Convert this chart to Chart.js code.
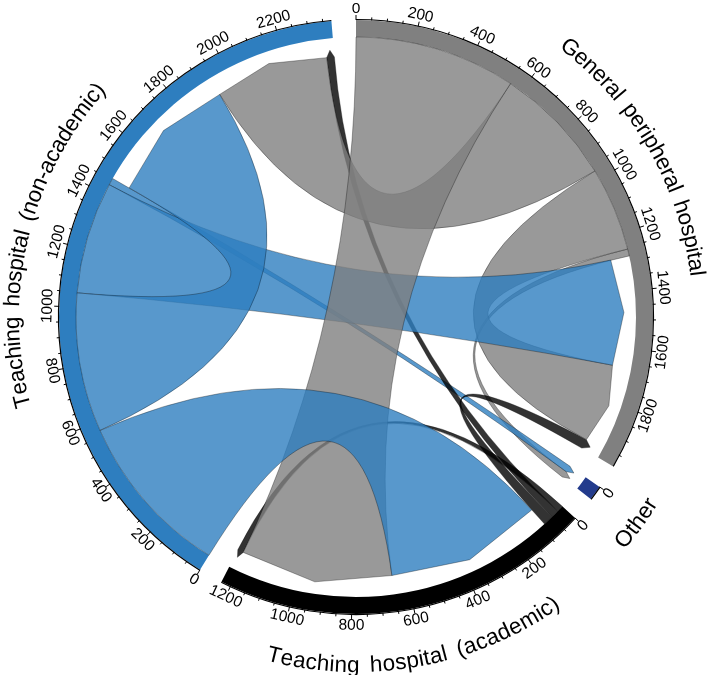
<!DOCTYPE html>
<html>
<head>
<meta charset="utf-8">
<script src="https://cdn.jsdelivr.net/npm/chart.js@4.4.1/dist/chart.umd.min.js"></script>
<style>
html,body{margin:0;padding:0;background:#ffffff;}
canvas{display:block;}
</style>
</head>
<body>
<canvas id="c" width="709" height="675"></canvas>
<script>
// ---- data ----
const groups = ['General peripheral hospital', 'Other', 'Teaching hospital (academic)', 'Teaching hospital (non-academic)'];
// transfers from a group (array) to each group, in the order of `groups`
const fromGeneral  = [288, 24, 555, 415];
const fromOther    = [0, 0, 0, 0];
const fromAcademic = [35, 0, 22, 28];
const fromNonAcad  = [385, 24, 570, 478];
// order of link ends inside each sector (clockwise): outgoing first, then incoming
const outOrder = [2, 3, 0, 1];
const inOrder  = [3, 0, 2, 1];
const tickStep = 50;
const labelStep = 200;

// ---- styles ----
const groupColors = ['#808080', '#233b8c', '#000000', '#2e7ebf'];
const ribbonColors = ['rgba(128,128,128,0.8)', 'rgba(35,59,140,0.8)', 'rgba(0,0,0,0.8)', 'rgba(46,126,191,0.8)'];
const GAP_DEG = 4.75;
const FONT = '"Liberation Sans", Arial, Helvetica, sans-serif';

const M = [fromGeneral, fromOther, fromAcademic, fromNonAcad];
const n = groups.length;
const totals = groups.map((_, i) => M[i].reduce((a, b) => a + b, 0) + M.reduce((a, row) => a + row[i], 0));

const srcPos = {}, tgtPos = {};
for (let i = 0; i < n; i++) {
  let c = 0;
  for (const j of outOrder) if (M[i][j] > 0) { srcPos[i + '-' + j] = [c, c + M[i][j]]; c += M[i][j]; }
  for (const j of inOrder) if (M[j][i] > 0) { tgtPos[j + '-' + i] = [c, c + M[j][i]]; c += M[j][i]; }
}
const links = [];
for (let i = 0; i < n; i++) for (let j = 0; j < n; j++) if (M[i][j] > 0) links.push({ i, j, v: M[i][j] });
links.sort((a, b) => a.v - b.v);

const sumT = totals.reduce((a, b) => a + b, 0);
const gapUnits = sumT * GAP_DEG / (360 - n * GAP_DEG);
const ringData = [], ringColors = [], ringLabels = [];
totals.forEach((t, i) => {
  ringData.push(t, gapUnits);
  ringColors.push(groupColors[i], 'rgba(0,0,0,0)');
  ringLabels.push(groups[i], '');
});

function curvedText(ctx, text, cx, cy, thetaC) {
  ctx.font = '22.5px ' + FONT;
  const bottom = thetaC > Math.PI / 2 && thetaC < 1.5 * Math.PI;
  const Rmid = 346, rBase = bottom ? 355 : 337, wordGap = 4;
  const chars = [...text];
  const widths = chars.map(ch => ctx.measureText(ch).width + (ch === ' ' ? wordGap : 0));
  const total = widths.reduce((a, b) => a + b, 0);
  const totAng = total / Rmid;
  let acc = 0;
  chars.forEach((ch, k) => {
    const mid = acc + widths[k] / 2; acc += widths[k];
    const phi = bottom ? thetaC + totAng / 2 - mid / Rmid : thetaC - totAng / 2 + mid / Rmid;
    const x = cx + rBase * Math.sin(phi), y = cy - rBase * Math.cos(phi);
    ctx.save();
    ctx.translate(x, y);
    ctx.rotate(bottom ? phi - Math.PI : phi);
    ctx.textAlign = 'center';
    ctx.textBaseline = 'alphabetic';
    ctx.fillStyle = '#000';
    ctx.fillText(ch, 0, 0);
    ctx.restore();
  });
}

const chordPlugin = {
  id: 'chord',
  afterDatasetsDraw(chart) {
    const ctx = chart.ctx;
    const arcs = chart.getDatasetMeta(0).data;
    const sec = groups.map((g, i) => arcs[2 * i]);
    const cx = sec[0].x, cy = sec[0].y;
    const rIn = sec[0].innerRadius, rOut = sec[0].outerRadius;
    const ang = (i, v) => sec[i].startAngle + (sec[i].endAngle - sec[i].startAngle) * v / totals[i];
    const pt = (a, r) => [cx + r * Math.cos(a), cy + r * Math.sin(a)];
    const rSrc = rIn, rBase = rIn - 19, rApex = rIn - 12;

    // ribbons
    ctx.save();
    for (const L of links) {
      const s = srcPos[L.i + '-' + L.j], t = tgtPos[L.i + '-' + L.j];
      const a0 = ang(L.i, s[0]), a1 = ang(L.i, s[1]);
      const b0 = ang(L.j, t[0]), b1 = ang(L.j, t[1]);
      ctx.beginPath();
      ctx.arc(cx, cy, rSrc, a0, a1);
      ctx.quadraticCurveTo(cx, cy, ...pt(b0, rBase));
      ctx.lineTo(...pt((b0 + b1) / 2, rApex));
      ctx.lineTo(...pt(b1, rBase));
      ctx.quadraticCurveTo(cx, cy, ...pt(a0, rSrc));
      ctx.closePath();
      ctx.fillStyle = ribbonColors[L.i];
      ctx.fill();
      ctx.strokeStyle = 'rgba(0,0,0,0.45)';
      ctx.lineWidth = 0.7;
      ctx.stroke();
    }
    ctx.restore();

    // axes, ticks, tick labels, group names
    ctx.save();
    ctx.strokeStyle = '#000';
    ctx.fillStyle = '#000';
    for (let i = 0; i < n; i++) {
      ctx.lineWidth = 1.2;
      ctx.beginPath();
      ctx.arc(cx, cy, rOut + 0.5, sec[i].startAngle, sec[i].endAngle);
      ctx.stroke();
      ctx.lineWidth = 1;
      for (let v = 0; v <= totals[i]; v += tickStep) {
        const a = ang(i, v);
        const major = v % labelStep === 0;
        const len = major ? 5 : 3;
        ctx.beginPath();
        ctx.moveTo(...pt(a, rOut));
        ctx.lineTo(...pt(a, rOut + len));
        ctx.stroke();
        if (major) {
          const phi = a + Math.PI / 2;
          const [x, y] = pt(a, 308.5);
          ctx.save();
          ctx.translate(x, y);
          const bottom = phi > Math.PI / 2 && phi < 1.5 * Math.PI;
          ctx.rotate(bottom ? phi - Math.PI : phi);
          ctx.font = '15.5px ' + FONT;
          ctx.textAlign = 'center';
          ctx.textBaseline = 'middle';
          ctx.fillText(String(v), 0, 0);
          ctx.restore();
        }
      }
      const thetaC = (sec[i].startAngle + sec[i].endAngle) / 2 + Math.PI / 2;
      curvedText(ctx, groups[i], cx, cy, thetaC);
    }
    ctx.restore();
  }
};

new Chart(document.getElementById('c').getContext('2d'), {
  type: 'doughnut',
  data: {
    labels: ringLabels,
    datasets: [{ data: ringData, backgroundColor: ringColors, borderWidth: 0, hoverOffset: 0 }]
  },
  options: {
    responsive: false,
    animation: false,
    events: [],
    rotation: 0,
    radius: 297,
    cutout: (280 / 297 * 100) + '%',
    layout: { padding: { left: 3, right: 0, top: 0, bottom: 41 } },
    plugins: { legend: { display: false }, tooltip: { enabled: false } }
  },
  plugins: [chordPlugin]
});
</script>
</body>
</html>
